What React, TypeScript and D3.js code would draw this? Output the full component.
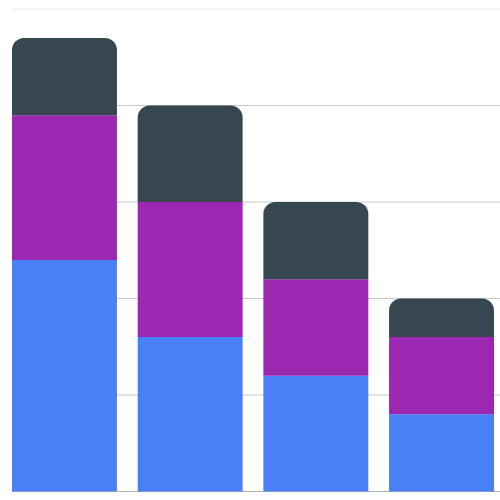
import { useEffect, useRef } from "react";
import * as d3 from "d3";

const CATEGORIES = ["A", "B", "C", "D"];
const SERIES = ["s1", "s2", "s3"];
const S1 = [24, 16, 12, 8];
const S2 = [15, 14, 10, 8];
const S3 = [8, 10, 8, 4];
const Y_TICKS = [0, 10, 20, 30, 40, 50];

const COLORS = ["#4a80f6", "#9c27b0", "#37474f"];
const W = 500;
const H = 500;

export default function App() {
  const ref = useRef<SVGSVGElement>(null);

  useEffect(() => {
    if (!ref.current) return;
    const svg = d3.select(ref.current);
    svg.selectAll("*").remove();

    const mg = { t: 9, r: 0, b: 8.5, l: 12 };
    const rows = CATEGORIES.map((c, i) => ({ cat: c, s1: S1[i], s2: S2[i], s3: S3[i] }));
    const stack = d3.stack<any>().keys(SERIES)(rows);

    const x = d3.scaleBand().domain(CATEGORIES).range([mg.l, 494]).paddingInner(0.165).paddingOuter(0);
    const y = d3.scaleLinear().domain([0, 50]).range([H - mg.b, mg.t]);

    // grid
    svg.append("g").selectAll("line").data(Y_TICKS).join("line")
      .attr("x1", mg.l).attr("x2", W)
      .attr("y1", (d) => y(d)).attr("y2", (d) => y(d))
      .attr("stroke", (d) => (d === 50 ? "#ebebeb" : d === 0 ? "#b3b3b3" : "#c8c8c8"))
      .attr("stroke-width", 1);

    // stacked bars, top segment gets rounded corners
    const r = 12;
    const bw = x.bandwidth();
    stack.forEach((layer, li) => {
      const top = li === stack.length - 1;
      svg.append("g").selectAll("path").data(layer).join("path")
        .attr("fill", COLORS[li])
        .attr("d", (d: any) => {
          const x0 = x(d.data.cat)!;
          const y0 = y(d[0]);
          const y1 = y(d[1]);
          if (!top) return `M${x0},${y0}V${y1}H${x0 + bw}V${y0}Z`;
          return `M${x0},${y0}V${y1 + r}A${r},${r} 0 0 1 ${x0 + r},${y1}H${x0 + bw - r}A${r},${r} 0 0 1 ${x0 + bw},${y1 + r}V${y0}Z`;
        });
    });
  }, []);

  return (
    <div style={{ position: "fixed", left: 0, top: 0, width: W, height: H, background: "#fff" }}>
      <svg ref={ref} width={W} height={H} style={{ display: "block" }} />
    </div>
  );
}
